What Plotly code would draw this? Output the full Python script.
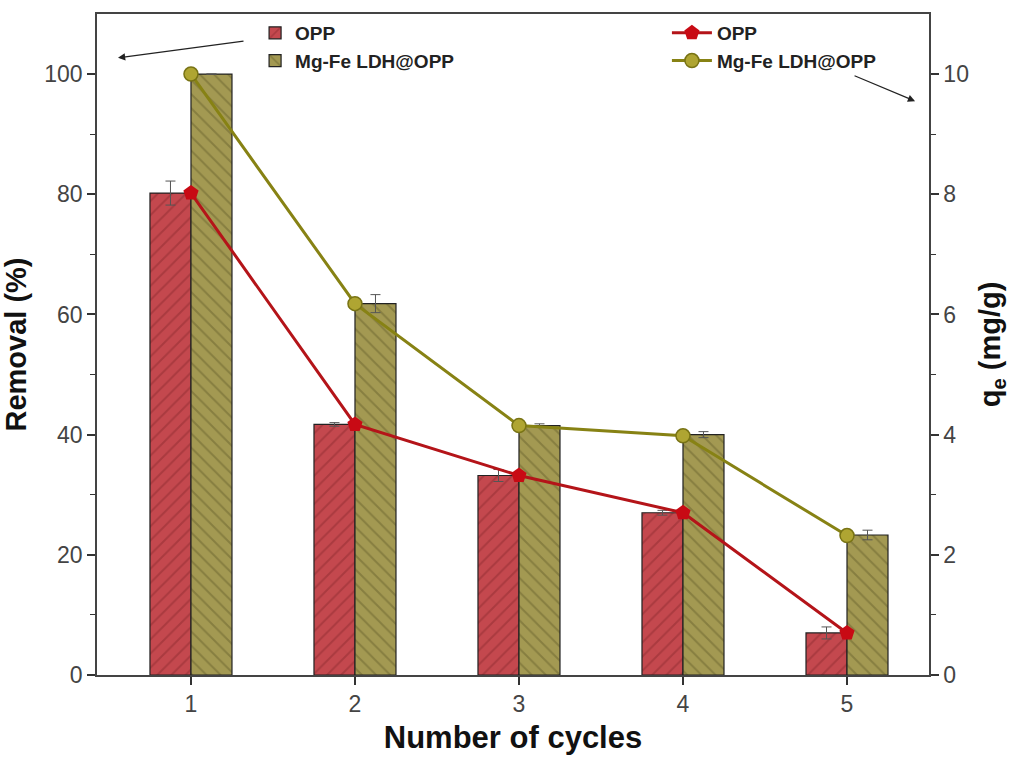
import plotly.graph_objects as go

cycles = [1, 2, 3, 4, 5]
removal_opp = [80.2, 41.7, 33.2, 27.0, 7.0]
removal_ldh = [100.0, 61.8, 41.5, 40.0, 23.3]
err_opp = [2.0, 0.3, 1.0, 0.4, 1.0]
err_ldh = [0.0, 1.5, 0.3, 0.5, 0.8]
qe_opp = [8.02, 4.17, 3.32, 2.70, 0.70]
qe_ldh = [10.0, 6.18, 4.15, 3.98, 2.32]

fig = go.Figure()
fig.add_trace(go.Bar(
    x=cycles, y=removal_opp, name="<b>OPP</b>", width=0.25, offset=-0.25,
    marker=dict(color="rgb(196,72,78)", line=dict(color="#222", width=1.2),
                pattern=dict(shape="/", fgcolor="rgba(120,30,35,0.7)", size=10, solidity=0.2)),
    error_y=dict(type="data", array=err_opp, color="#555", thickness=1, width=5),
    legend="legend"))
fig.add_trace(go.Bar(
    x=cycles, y=removal_ldh, name="<b>Mg-Fe LDH@OPP</b>", width=0.25, offset=0,
    marker=dict(color="rgb(163,153,82)", line=dict(color="#222", width=1.2),
                pattern=dict(shape="\\", fgcolor="rgba(80,75,30,0.7)", size=10, solidity=0.2)),
    error_y=dict(type="data", array=err_ldh, color="#555", thickness=1, width=5),
    legend="legend"))
fig.add_trace(go.Scatter(
    x=cycles, y=qe_opp, yaxis="y2", name="<b>OPP</b>", mode="lines+markers",
    line=dict(color="rgb(180,20,25)", width=3),
    marker=dict(symbol="pentagon", size=16, color="rgb(200,10,20)"),
    legend="legend2"))
fig.add_trace(go.Scatter(
    x=cycles, y=qe_ldh, yaxis="y2", name="<b>Mg-Fe LDH@OPP</b>", mode="lines+markers",
    line=dict(color="rgb(135,130,20)", width=3),
    marker=dict(symbol="circle", size=14, color="rgb(175,165,50)",
                line=dict(color="rgb(120,115,20)", width=1.5)),
    legend="legend2"))

axis_font = dict(family="Liberation Sans, Arial, sans-serif", size=23, color="#444")

fig.update_layout(
    width=1017, height=761,
    margin=dict(l=97, r=88, t=12, b=86),
    paper_bgcolor="white", plot_bgcolor="white",
    font=dict(family="Liberation Sans, Arial, sans-serif"),
    xaxis=dict(range=[0.427, 5.5], tickvals=cycles, ticks="outside", ticklen=8,
               tickwidth=1.5, tickcolor="#333", showline=True, linecolor="#444",
               linewidth=1.5, mirror=True, showgrid=False, zeroline=False,
               tickfont=axis_font,
               title=dict(text="<b>Number of cycles</b>",
                          font=dict(family="Liberation Sans, Arial, sans-serif", size=31, color="#111"),
                          standoff=10)),
    yaxis=dict(range=[0, 110], tickvals=[0, 20, 40, 60, 80, 100], ticks="outside",
               ticklen=8, tickwidth=1.5, tickcolor="#333", showline=True,
               linecolor="#444", linewidth=1.5, showgrid=False, zeroline=False,
               tickfont=axis_font,
               minor=dict(tickvals=[10, 30, 50, 70, 90], ticks="outside", ticklen=5,
                          tickcolor="#333", tickwidth=1.2),
               title=dict(text="<b>Removal (%)</b>",
                          font=dict(family="Liberation Sans, Arial, sans-serif", size=29, color="#111"),
                          standoff=10)),
    yaxis2=dict(range=[0, 11], tickvals=[0, 2, 4, 6, 8, 10], overlaying="y", side="right",
                ticks="outside", ticklen=8, tickwidth=1.5, tickcolor="#333",
                showline=True, linecolor="#444", linewidth=1.5, showgrid=False,
                zeroline=False, tickfont=axis_font,
                minor=dict(tickvals=[1, 3, 5, 7, 9], ticks="outside", ticklen=5,
                           tickcolor="#333", tickwidth=1.2),
                title=dict(text="<b>q<sub>e</sub> (mg/g)</b>",
                           font=dict(family="Liberation Sans, Arial, sans-serif", size=29, color="#111"),
                           standoff=12)),
    legend=dict(x=0.19, y=1.0, xanchor="left", yanchor="top", bgcolor="rgba(0,0,0,0)",
                font=dict(size=19, color="#222"), tracegroupgap=0),
    legend2=dict(x=0.685, y=1.0, xanchor="left", yanchor="top", bgcolor="rgba(0,0,0,0)",
                 font=dict(size=19, color="#222"), tracegroupgap=0, itemwidth=40),
    showlegend=True,
    annotations=[
        dict(x=0.555, y=102.7, xref="x", yref="y", ax=127, ay=-17, showarrow=True,
             arrowhead=2, arrowsize=1.2, arrowwidth=1.2, arrowcolor="#222", text=""),
        dict(x=5.415, y=95.5, xref="x", yref="y", ax=-62, ay=-26, showarrow=True,
             arrowhead=2, arrowsize=1.2, arrowwidth=1.2, arrowcolor="#222", text=""),
    ],
)

fig.write_html("out.html")
